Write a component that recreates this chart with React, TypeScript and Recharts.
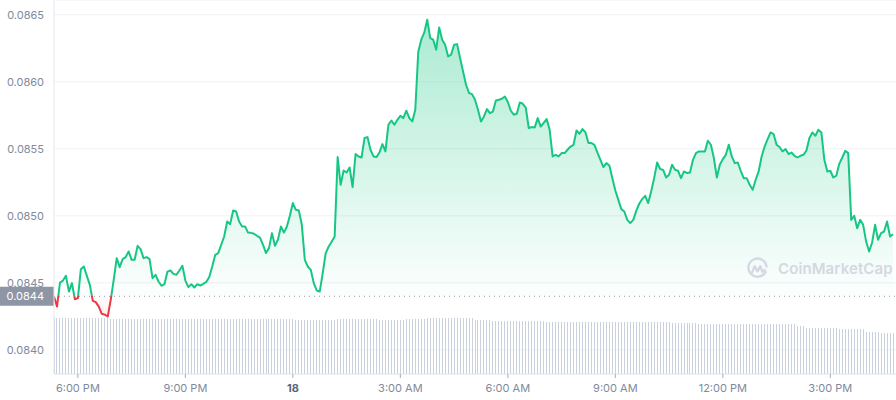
import React from "react";
import {
  ComposedChart,
  Area,
  Bar,
  XAxis,
  YAxis,
  CartesianGrid,
  ReferenceLine,
} from "recharts";

// price at the open of the 24h window (the dotted baseline)
const openPrice = 0.0844;
const stepMinutes = 5;

// 5-minute closes, starting 5:20 PM
const prices = [
  0.084398, 0.084323, 0.084502, 0.084517, 0.084552, 0.084435, 0.084498, 0.084378, 0.084386, 0.084602,
  0.084622, 0.084552, 0.084485, 0.084366, 0.084356, 0.084323, 0.084269, 0.084263, 0.084249, 0.084373,
  0.084522, 0.084684, 0.084617, 0.084677, 0.084692, 0.084734, 0.084672, 0.084672, 0.084776, 0.084752,
  0.084684, 0.084692, 0.084677, 0.084535, 0.08456, 0.08451, 0.084478, 0.08449, 0.084584, 0.084592,
  0.084567, 0.08456, 0.084592, 0.084627, 0.084517, 0.084468, 0.08449, 0.084465, 0.08449, 0.08448,
  0.084493, 0.084507, 0.084543, 0.084622, 0.084709, 0.084722, 0.084784, 0.084846, 0.084958, 0.084938,
  0.08504, 0.085032, 0.084958, 0.08492, 0.08492, 0.084875, 0.084873, 0.084866, 0.084851, 0.084838,
  0.084784, 0.084722, 0.084759, 0.084871, 0.084776, 0.084821, 0.08492, 0.084875, 0.08492, 0.085,
  0.085095, 0.085045, 0.08504, 0.084933, 0.084672, 0.084622, 0.084597, 0.084498, 0.084443, 0.084435,
  0.084572, 0.084722, 0.084771, 0.084806, 0.084846, 0.085438, 0.085231, 0.085338, 0.085323, 0.085361,
  0.085214, 0.085461, 0.085443, 0.085435, 0.08558, 0.085587, 0.085493, 0.085443, 0.085438, 0.085472,
  0.085535, 0.08548, 0.085679, 0.085711, 0.085679, 0.085716, 0.085746, 0.085729, 0.085784, 0.085729,
  0.085704, 0.085791, 0.086224, 0.086314, 0.086366, 0.086463, 0.086326, 0.086314, 0.086239, 0.086405,
  0.086314, 0.086276, 0.086189, 0.086202, 0.086276, 0.086281, 0.086177, 0.086077, 0.085978, 0.085916,
  0.085908, 0.085866, 0.085791, 0.085704, 0.085741, 0.085796, 0.085766, 0.085778, 0.085861, 0.085866,
  0.085873, 0.08589, 0.085849, 0.085784, 0.085754, 0.085761, 0.085846, 0.085836, 0.085808, 0.085655,
  0.085662, 0.085659, 0.085729, 0.085666, 0.085694, 0.085722, 0.085642, 0.085443, 0.085455, 0.085443,
  0.085468, 0.085468, 0.085493, 0.085517, 0.08553, 0.085637, 0.085612, 0.085647, 0.085622, 0.085543,
  0.085543, 0.08553, 0.085472, 0.085418, 0.085363, 0.085393, 0.085375, 0.085281, 0.085189, 0.085119,
  0.08505, 0.085032, 0.08497, 0.084946, 0.08497, 0.085037, 0.08509, 0.085125, 0.085149, 0.085095,
  0.085181, 0.085281, 0.085398, 0.085349, 0.085343, 0.085286, 0.085306, 0.085381, 0.085343, 0.085336,
  0.085281, 0.085331, 0.085319, 0.085323, 0.085418, 0.085468, 0.08548, 0.08548, 0.08548, 0.08556,
  0.08553, 0.085431, 0.085286, 0.085381, 0.085423, 0.085455, 0.08553, 0.085443, 0.085393, 0.085398,
  0.085336, 0.085281, 0.085281, 0.085231, 0.085194, 0.085269, 0.085331, 0.085443, 0.085517, 0.085572,
  0.085622, 0.08561, 0.08553, 0.085513, 0.08548, 0.085498, 0.085461, 0.085472, 0.085448, 0.085435,
  0.085448, 0.085455, 0.085487, 0.08558, 0.085622, 0.085597, 0.085642, 0.085622, 0.085418, 0.085331,
  0.085336, 0.085286, 0.085299, 0.085388, 0.085435, 0.085485, 0.085468, 0.08497, 0.085, 0.084908,
  0.08497, 0.084933, 0.084808, 0.084734, 0.084801, 0.084933, 0.084821, 0.084871, 0.084883, 0.084958,
  0.084846, 0.084863,
];

// rolling 24h volume, $M, one per price point
const volumes = [
  280, 280, 280, 280, 280, 280, 280, 280, 280, 279,
  278, 278, 278, 278, 278, 278, 278, 278, 278, 275,
  275, 275, 275, 275, 275, 275, 275, 275, 275, 275,
  275, 275, 275, 275, 275, 275, 275, 275, 275, 275,
  275, 275, 275, 275, 275, 275, 275, 275, 275, 275,
  275, 275, 275, 275, 275, 275, 275, 275, 275, 275,
  275, 275, 275, 275, 275, 275, 275, 275, 275, 275,
  275, 275, 275, 275, 275, 275, 275, 275, 275, 275,
  275, 270, 270, 270, 270, 270, 270, 270, 270, 270,
  270, 270, 270, 270, 270, 275, 275, 275, 275, 275,
  275, 275, 275, 275, 275, 275, 275, 275, 275, 270,
  270, 270, 270, 270, 270, 270, 270, 270, 275, 275,
  275, 275, 275, 275, 275, 280, 280, 280, 280, 280,
  280, 280, 280, 280, 280, 280, 280, 280, 280, 280,
  280, 270, 270, 270, 270, 270, 270, 265, 265, 265,
  265, 265, 265, 265, 265, 265, 265, 265, 265, 265,
  265, 265, 265, 265, 265, 260, 260, 260, 260, 260,
  260, 260, 260, 260, 260, 260, 260, 260, 260, 260,
  260, 260, 260, 260, 260, 260, 260, 260, 260, 260,
  260, 260, 260, 260, 260, 260, 260, 260, 260, 260,
  260, 260, 260, 260, 260, 260, 260, 255, 255, 255,
  255, 255, 255, 255, 255, 255, 250, 250, 250, 250,
  250, 250, 250, 250, 250, 250, 250, 250, 250, 250,
  250, 250, 250, 250, 250, 250, 250, 250, 250, 250,
  250, 250, 250, 250, 250, 250, 250, 250, 250, 240,
  240, 240, 230, 230, 230, 230, 230, 230, 230, 230,
  230, 230, 230, 225, 225, 225, 225, 225, 225, 225,
  225, 225, 210, 210, 210, 210, 210, 203, 203, 203,
  203, 203,
];

const timeTicks = [40, 220, 400, 580, 760, 940, 1120, 1300];
const timeLabels = ["6:00 PM", "9:00 PM", "18", "3:00 AM", "6:00 AM", "9:00 AM", "12:00 PM", "3:00 PM"];
const priceTicks = [0.084, 0.0845, 0.085, 0.0855, 0.086, 0.0865];

const UP = "#16c784";
const DOWN = "#ea3943";
const AXIS_TEXT = "#808a9d";
const GRID = "#eff2f5";

const chartData = prices.map((price, i) => ({
  t: i * stepMinutes,
  price,
  volume: volumes[i],
}));

const maxPrice = Math.max(...prices);
const minPrice = Math.min(...prices);
const splitOffset = (maxPrice - openPrice) / (maxPrice - minPrice);

function TimeTick(props: any) {
  const { x, y, payload } = props;
  const idx = timeTicks.indexOf(payload.value);
  const label = idx >= 0 ? timeLabels[idx] : "";
  const isDay = label === "18";
  return (
    <text
      x={x}
      y={y}
      dy="0.71em"
      textAnchor="middle"
      fontSize={11}
      fontWeight={isDay ? 700 : 400}
      fill={isDay ? "#58667e" : AXIS_TEXT}
    >
      {label}
    </text>
  );
}

function BaselineTag(props: any) {
  const { viewBox } = props;
  if (!viewBox) return null;
  const { x, y } = viewBox;
  return (
    <g>
      <rect x={x - 54} y={y - 9.5} width={54} height={19} fill="#8e95a5" />
      <text x={x - 10} y={y} dy="0.35em" textAnchor="end" fontSize={11} fill="#ffffff">
        {openPrice.toFixed(4)}
      </text>
    </g>
  );
}

function Watermark() {
  return (
    <div style={{ position: "absolute", left: 746, top: 257, display: "flex", alignItems: "center", pointerEvents: "none" }}>
      <svg width={23} height={23} viewBox="0 0 24 24">
        <path
          d="M20.5 15.5 A9.5 9.5 0 1 1 21.5 10"
          fill="none"
          stroke="#d4d8e2"
          strokeWidth={2.4}
          strokeLinecap="round"
        />
        <path
          d="M6.5 16 L9 9.5 L12 15 L15 9.5 L17 15.5 L19.5 13.5"
          fill="none"
          stroke="#d4d8e2"
          strokeWidth={2.4}
          strokeLinecap="round"
          strokeLinejoin="round"
        />
      </svg>
      <span style={{ marginLeft: 9, fontSize: 15, fontWeight: 600, color: "#d4d8e2", letterSpacing: 0.1 }}>
        CoinMarketCap
      </span>
    </div>
  );
}

export default function App() {
  return (
    <div
      style={{
        position: "absolute",
        left: 0,
        top: 0,
        width: 896,
        height: 400,
        background: "#ffffff",
        fontFamily: "Inter, 'Noto Sans', sans-serif",
        overflow: "hidden",
      }}
    >
      <ComposedChart
        width={896}
        height={400}
        data={chartData}
        margin={{ top: 0, right: 0, bottom: 0, left: 0 }}
      >
        <defs>
          <linearGradient id="priceStroke" x1="0" y1="0" x2="0" y2="1">
            <stop offset={splitOffset} stopColor={UP} />
            <stop offset={splitOffset} stopColor={DOWN} />
          </linearGradient>
          <linearGradient id="priceFill" x1="0" y1="0" x2="0" y2="1">
            <stop offset={0} stopColor={UP} stopOpacity={0.36} />
            <stop offset={splitOffset} stopColor={UP} stopOpacity={0.01} />
            <stop offset={splitOffset} stopColor={DOWN} stopOpacity={0.01} />
            <stop offset={1} stopColor={DOWN} stopOpacity={0.08} />
          </linearGradient>
        </defs>
        <CartesianGrid vertical={false} stroke={GRID} />
        <XAxis
          dataKey="t"
          type="number"
          domain={[0, 1410]}
          ticks={timeTicks}
          interval={0}
          height={26}
          tickSize={4}
          tickMargin={6}
          axisLine={{ stroke: "#e3e7ee" }}
          tickLine={{ stroke: "#a6aebd" }}
          tick={(p: any) => <TimeTick {...p} />}
        />
        <YAxis
          domain={[0.08382, 0.08661]}
          allowDataOverflow
          ticks={priceTicks}
          interval={0}
          width={54}
          tickSize={0}
          tickMargin={10}
          axisLine={{ stroke: "#e3e7ee" }}
          tickLine={false}
          tick={{ fontSize: 11, fill: AXIS_TEXT }}
          tickFormatter={(v: number) => v.toFixed(4)}
        />
        <YAxis yAxisId="vol" hide domain={[0, 1870]} />
        <Bar
          yAxisId="vol"
          dataKey="volume"
          barSize={1}
          fill="#c9d1df"
          shapeRendering="crispEdges"
          isAnimationActive={false}
        />
        <ReferenceLine
          y={openPrice}
          stroke="#8e95a5"
          strokeDasharray="1 4"
          label={<BaselineTag />}
        />
        <Area
          type="linear"
          dataKey="price"
          baseValue={openPrice}
          stroke="url(#priceStroke)"
          strokeWidth={2}
          strokeLinejoin="round"
          fill="url(#priceFill)"
          fillOpacity={1}
          dot={false}
          activeDot={false}
          isAnimationActive={false}
        />
      </ComposedChart>
      <Watermark />
    </div>
  );
}
